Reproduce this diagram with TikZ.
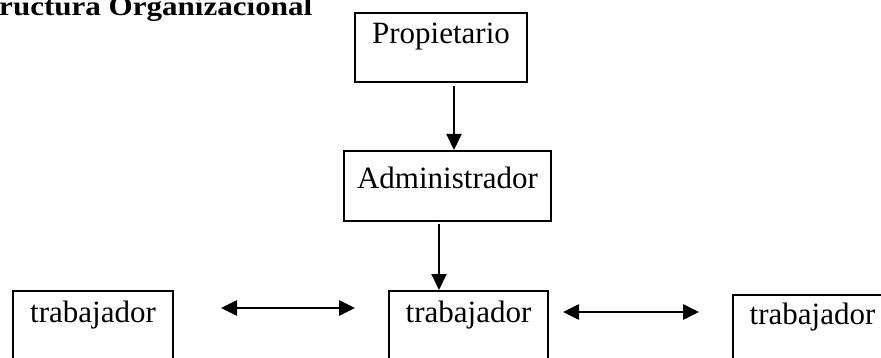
\documentclass[tikz,border=0pt]{standalone}
\usepackage{fontspec}
\setmainfont{Liberation Serif}
\usetikzlibrary{arrows.meta}
\begin{document}
\begin{tikzpicture}[x=1pt,y=-1pt,
  every node/.style={font=\fontsize{31}{36}\selectfont, inner sep=0pt},
  box/.style={draw, line width=2pt, anchor=north west, align=center},
  vline/.style={line width=2pt, -{Triangle[length=16pt,width=15pt]}},
  hline/.style={line width=2.6pt, {Triangle[length=16pt,width=15pt]}-{Triangle[length=16pt,width=15pt]}}]
\useasboundingbox (0,0) rectangle (881,358);
\node[anchor=base west, xscale=1.15, transform shape, font=\fontsize{27}{32}\selectfont\bfseries] (title) at (-1,16) {ructura Organizacional};
\node[box, minimum width=172pt, text height=31pt, text depth=38pt] (prop) at (354,12) {Propietario};
\node[box, minimum width=207pt, text height=38pt, text depth=32pt] (adm) at (343,150) {Administrador};
\node[box, minimum width=160pt, text height=31pt, text depth=42pt] (t1) at (12,290) {trabajador};
\node[box, minimum width=159pt, text height=31pt, text depth=42pt] (t2) at (388,290) {trabajador};
\node[box, minimum width=159pt, text height=29pt, text depth=42pt] (t3) at (732,294) {trabajador};
\draw[vline] ([xshift=13pt,yshift=-3pt]prop.south) -- ([xshift=13pt]prop.south |- adm.north);
\draw[vline] ([xshift=-8.5pt,yshift=-2pt]adm.south) -- ([xshift=-8.5pt]adm.south |- t2.north);
\coordinate (l1) at (221,308);
\coordinate (l2) at (355,308);
\coordinate (r1) at (563,312);
\coordinate (r2) at (699,312);
\draw[hline] (l1) -- (l2);
\draw[hline] (r1) -- (r2);
\end{tikzpicture}
\end{document}
